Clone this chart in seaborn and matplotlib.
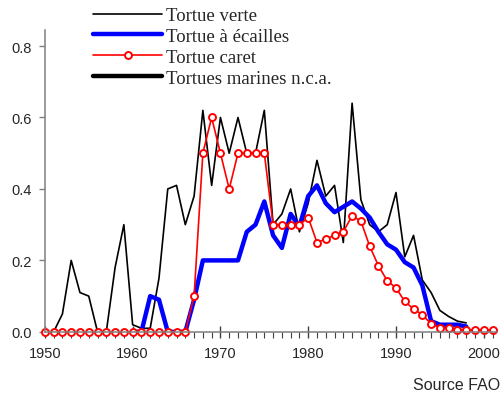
import numpy as np
import pandas as pd
import matplotlib
matplotlib.use("Agg")
import matplotlib.pyplot as plt
import seaborn as sns
from matplotlib.ticker import MultipleLocator
from matplotlib.lines import Line2D

# Tortue verte (thin black), 1950-1998
years_verte = list(range(1950, 1999))
verte = [0.0, 0.0, 0.05, 0.20, 0.11, 0.10, 0.0, 0.0, 0.18, 0.30,
         0.02, 0.01, 0.01, 0.15, 0.40, 0.41, 0.30, 0.38, 0.62, 0.41,
         0.60, 0.50, 0.60, 0.50, 0.50, 0.62, 0.30, 0.33, 0.40, 0.28,
         0.36, 0.48, 0.38, 0.41, 0.25, 0.64, 0.37, 0.30, 0.28, 0.30,
         0.39, 0.21, 0.27, 0.145, 0.11, 0.06, 0.043, 0.03, 0.025]

# Tortue a ecailles (thick blue), 1960-1998
years_ecailles = list(range(1960, 1999))
ecailles = [0.0, 0.0, 0.10, 0.09, 0.0, 0.0, 0.0, 0.09, 0.20, 0.20,
            0.20, 0.20, 0.20, 0.28, 0.30, 0.365, 0.27, 0.235, 0.33, 0.295,
            0.38, 0.41, 0.36, 0.335, 0.35, 0.365, 0.345, 0.32, 0.28, 0.245,
            0.23, 0.195, 0.18, 0.13, 0.03, 0.02, 0.02, 0.02, 0.015]

# Tortue caret (red, open circles), 1950-2001
years_caret = list(range(1950, 2002))
caret = [0.0] * 17 + [0.10, 0.50, 0.60, 0.50, 0.40, 0.50, 0.50, 0.50, 0.50,
                      0.30, 0.30, 0.30, 0.30, 0.32, 0.25, 0.26, 0.27, 0.28, 0.325,
                      0.31, 0.24, 0.185, 0.143, 0.123, 0.085, 0.064, 0.048, 0.022, 0.012,
                      0.012, 0.006, 0.006, 0.005, 0.005, 0.005]

# Tortues marines n.c.a. (thick black) - nothing visible on the chart
years_nca = []
nca = []

sns.set_style("ticks")
plt.rcParams['font.family'] = ['Liberation Sans', 'DejaVu Sans']

fig = plt.figure(figsize=(5.04, 4.02), dpi=100)
ax = fig.add_axes([0.089, 0.172, 0.897, 0.751])

sns.lineplot(x=years_verte, y=verte, ax=ax, color='black', linewidth=1.2)
sns.lineplot(x=years_ecailles, y=ecailles, ax=ax, color='#0000FF', linewidth=3.2)
sns.lineplot(x=years_caret, y=caret, ax=ax, color='#FF0000', linewidth=1.2,
             marker='o', markersize=5, markerfacecolor='white',
             markeredgecolor='#FF0000', markeredgewidth=1.4, clip_on=False)
if len(nca):
    sns.lineplot(x=years_nca, y=nca, ax=ax, color='black', linewidth=3.2)

ax.set_xlim(1950, 2001.5)
ax.set_ylim(0, 0.845)
ax.xaxis.set_major_locator(MultipleLocator(10))
ax.xaxis.set_minor_locator(MultipleLocator(1))
ax.yaxis.set_major_locator(MultipleLocator(0.2))
ax.yaxis.set_major_formatter(plt.FuncFormatter(lambda v, p: f"{v:.1f}"))

sns.despine(ax=ax)
for s in ['left', 'bottom']:
    ax.spines[s].set_color('#808080')
    ax.spines[s].set_linewidth(1.1)
ax.tick_params(axis='x', which='major', direction='inout', length=9, width=1,
               color='#404040', labelsize=10.5, pad=6)
ax.tick_params(axis='x', which='minor', direction='out', length=4, width=0.8,
               color='#404040')
ax.tick_params(axis='y', which='major', direction='out', length=4, width=1,
               color='#808080', labelsize=10.5, pad=5.5)

handles = [
    Line2D([0], [0], color='black', linewidth=1.2),
    Line2D([0], [0], color='#0000FF', linewidth=3.2),
    Line2D([0], [0], color='#FF0000', linewidth=1.2, marker='o', markersize=5,
           markerfacecolor='white', markeredgecolor='#FF0000', markeredgewidth=1.4),
    Line2D([0], [0], color='black', linewidth=3.2),
]
labels = ['Tortue verte', 'Tortue à écailles', 'Tortue caret', 'Tortues marines n.c.a.']
leg = fig.legend(handles, labels, loc='upper left', bbox_to_anchor=(0.151, 1.022),
                 frameon=False, handlelength=3.7, handletextpad=0.2,
                 labelspacing=0.2, prop={'family': 'Liberation Serif', 'size': 13.5})

fig.text(0.992, 0.022, 'Source FAO', ha='right', va='bottom', fontsize=11.5)

fig.savefig('out.png', dpi=100)
